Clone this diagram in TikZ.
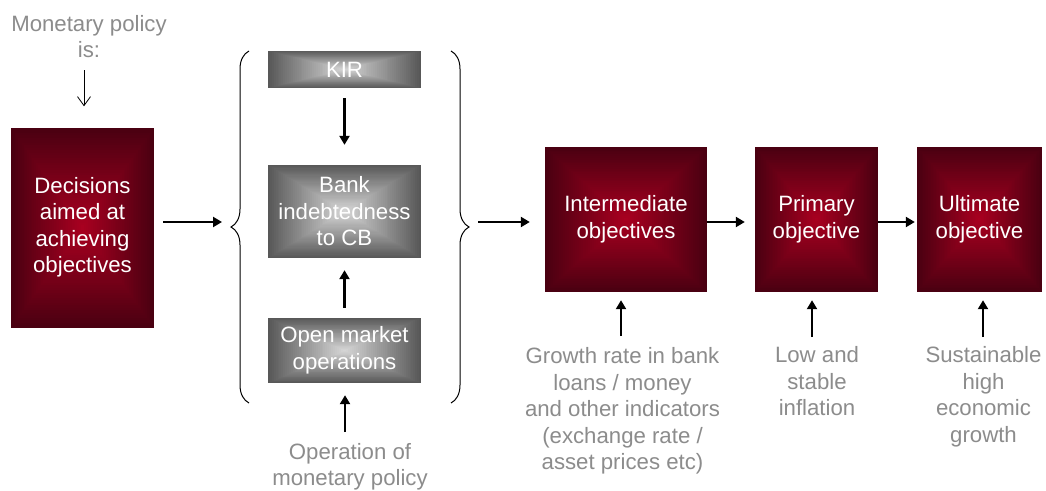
\documentclass[tikz,border=0pt]{standalone}
\usepackage{fontspec}
\setmainfont{Liberation Sans}
\usetikzlibrary{arrows.meta,decorations.pathreplacing,calc}
\definecolor{redout}{HTML}{4A0011}
\definecolor{redin}{HTML}{AA0020}
\definecolor{grayout}{HTML}{585858}
\definecolor{grayin}{HTML}{D8D8D8}
\definecolor{labelgray}{HTML}{8C8C8C}
\newcommand{\diagfont}{\fontsize{22.2}{26.5}\selectfont}
\tikzset{
  rectgrad/.style 2 args={path picture={
    \foreach \i in {0,...,40} {
      \pgfmathsetmacro\gradf{1-\i/40}
      \pgfmathsetmacro\gradp{100*\i/40}
      \fill[#2!\gradp!#1]
        ($(path picture bounding box.center)!\gradf!(path picture bounding box.north west)$)
        rectangle
        ($(path picture bounding box.center)!\gradf!(path picture bounding box.south east)$);
    }
  }},
  boxbase/.style={inner sep=0pt, text=white, align=center, font=\diagfont},
  redbox/.style={boxbase, rectgrad={redout}{redin}},
  graybox/.style={boxbase, rectgrad={grayout}{grayin}},
  lbl/.style={inner sep=0pt, text=labelgray, align=center, font=\diagfont, anchor=north},
  arr/.style={line width=2.2pt, -{Triangle[length=9pt,width=10pt]}},
  thinarr/.style={line width=0.8pt, -{Straight Barb[length=9pt,width=13pt]}},
  bracestyle/.style={line width=1pt, decorate, decoration={brace, amplitude=18pt}},
}
\begin{document}
\begin{tikzpicture}[x=1pt,y=1pt]
\fill[white] (0,0) rectangle (1046,-490);
\useasboundingbox (0,0) rectangle (1046,-490);

% boxes
\node[redbox, minimum width=143pt, minimum height=200pt] (dec) at (82.5,-227.5) {Decisions\\aimed at\\achieving\\objectives};
\node[graybox, minimum width=153pt, minimum height=37pt] (kir) at (344.5,-69.5) {KIR};
\node[graybox, minimum width=153pt, minimum height=93pt] (bank) at (344.5,-211.5) {Bank\\indebtedness\\to CB};
\node[graybox, minimum width=153pt, minimum height=65pt] (omo) at (344.5,-350.5) {Open market\\operations};
\node[redbox, minimum width=162pt, minimum height=145pt] (inter) at (626,-219.5) {Intermediate\\objectives};
\node[redbox, minimum width=123pt, minimum height=145pt] (prim) at (816.5,-219.5) {Primary\\objective};
\node[redbox, minimum width=125pt, minimum height=145pt] (ult) at (979.5,-219.5) {Ultimate\\objective};

% labels
\node[lbl] (mp) at (89,-15) {Monetary policy\\is:};
\node[lbl] (op) at (350,-443) {Operation of\\monetary policy};
\node[lbl] (gr) at (622.5,-347.5) {Growth rate in bank\\loans / money\\and other indicators\\(exchange rate /\\asset prices etc)};
\node[lbl] (low) at (817,-346.5) {Low and\\stable\\inflation};
\node[lbl] (sus) at (983.5,-346.5) {Sustainable\\high\\economic\\growth};

% braces
\coordinate (lbb) at (249,-403);
\coordinate (lbt) at (249,-51);
\coordinate (rbt) at (451,-51);
\coordinate (rbb) at (451,-403);
\draw[bracestyle] (lbb) -- (lbt);
\draw[bracestyle] (rbt) -- (rbb);

% connectors
\coordinate (mparr) at (84,-70);
\draw[thinarr, shorten >=21pt] (mparr) -- (mparr |- dec.north);

\coordinate (lbin) at (222,-222);
\draw[arr, shorten <=9pt] (dec.east |- lbin) -- (lbin);

\coordinate (rbout) at (478,-222);
\draw[arr, shorten >=15pt] (rbout) -- (inter.west |- rbout);
\draw[arr, shorten >=10pt] (inter.east |- rbout) -- (prim.west |- rbout);
\draw[arr, shorten >=2pt] (prim.east |- rbout) -- (ult.west |- rbout);

\draw[arr, shorten <=10pt, shorten >=20pt] (kir) -- (bank);
\draw[arr, shorten <=10pt, shorten >=12pt] (omo) -- (bank);

\coordinate (opin) at (345,-432);
\draw[arr, shorten >=12pt] (opin) -- (opin |- omo.south);

\coordinate (grin) at (621,-336);
\draw[arr, shorten >=8pt] (grin) -- (grin |- inter.south);
\coordinate (lowin) at (812,-337);
\draw[arr, shorten >=8pt] (lowin) -- (lowin |- prim.south);
\coordinate (susin) at (983,-337);
\draw[arr, shorten >=8pt] (susin) -- (susin |- ult.south);
\end{tikzpicture}
\end{document}
